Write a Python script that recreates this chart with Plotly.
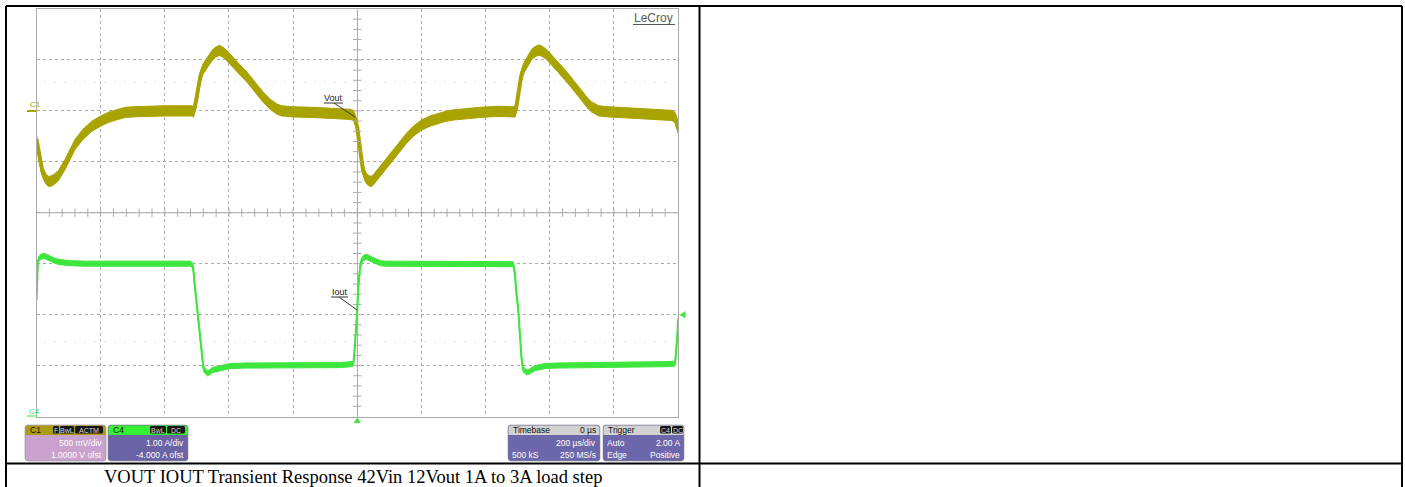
import plotly.graph_objects as go

# ---------------- waveform data ----------------
# C1: Vout deviation (mV) versus time (us)
t_vout = [-1000, -990, -981, -970, -963, -955, -945, -931, -910, -895, -880, -855, -828, -800,
          -776, -750, -723, -690, -650, -600, -550, -515, -511, -506, -502, -496, -489, -481,
          -473, -465, -458, -450, -442, -436, -430, -424, -414, -400, -386, -365, -343, -318,
          -293, -271, -260, -249, -235, -224, -200, -137, -80, -53, -22, -12, -6, 0, 5, 9, 14,
          19, 25, 31, 40, 48, 56, 67, 78, 90, 103, 115, 128, 142, 156, 175, 200, 227, 250, 274,
          300, 330, 383, 436, 483, 489, 492, 496, 500, 505, 511, 519, 527, 535, 543, 551, 557,
          563, 570, 577, 587, 600, 615, 637, 662, 687, 709, 720, 731, 742, 753, 776, 860, 920,
          947, 978, 988, 993, 997, 1000]
v_out = [-280, -476, -604, -670, -692, -690, -672, -633, -520, -430, -330, -230, -152, -100,
         -64, -38, -15, -8, -3, 0, 0, 0, -10, 40, 113, 230, 339, 410,
         447, 490, 525, 555, 574, 586, 594, 585, 565, 520, 476, 400, 329, 231,
         133, 64, 38, 15, 0, -5, -10, -15, -22, -25, -34, -44, -90, -162, -300, -398, -500,
         -594, -645, -673, -692, -685, -653, -610, -565, -520, -476, -420, -368, -310, -260,
         -200, -140, -100, -75, -55, -40, -30, -15, -5, -5, -5, -10, 40, 113, 230, 339, 420,
         460, 510, 550, 575, 588, 594, 596, 585, 563, 520, 470, 390, 300, 200, 110, 70, 38,
         15, 0, -8, -20, -30, -35, -44, -55, -80, -133, -170]

# C4: Iout (A) versus time (us)
t_iout = [-1000, -998, -996, -993, -990, -985, -975, -965, -956, -940, -925, -894, -850, -700,
          -520, -514, -511, -507, -502, -498, -495, -492, -489, -486, -483, -480, -477, -472,
          -467, -460, -452, -440, -427, -410, -396, -350, -200, -50, -15, -12, -9, -6, -3, 0,
          3, 6, 9, 13, 19, 25, 31, 40, 50, 60, 72, 90, 150, 300, 480, 486, 489, 492, 495, 499,
          502, 505, 508, 512, 517, 522, 527, 533, 540, 554, 570, 586, 620, 800, 985, 991, 995,
          998, 1000]
i_out = [2.29, 2.75, 3.02, 3.09, 3.11, 3.14, 3.15, 3.12, 3.09, 3.05, 3.03, 3.01, 3.0, 3.0,
         3.0, 2.97, 2.88, 2.6, 2.29, 2.05, 1.9, 1.65, 1.40, 1.2, 1.07, 0.97, 0.91, 0.87,
         0.85, 0.87, 0.91, 0.93, 0.95, 0.97, 0.99, 1.0, 1.0, 1.01, 1.03, 1.05, 1.25, 1.5, 1.8, 2.09,
         2.54, 2.8, 2.94, 3.05, 3.11, 3.13, 3.13, 3.10, 3.07, 3.04, 3.01, 3.0, 3.0, 3.0, 3.0, 2.99, 2.9, 2.78, 2.5, 2.3,
         2.09, 1.8, 1.5, 1.15, 0.93, 0.89, 0.87, 0.87, 0.9, 0.95, 0.97, 0.99, 1.0, 1.01, 1.03, 1.05, 1.3,
         1.6, 1.9]

# noise envelope half-widths of the captured traces
VOUT_RIPPLE_MV = 50
IOUT_RIPPLE_A = 0.05

# channel settings
C1_SCALE_MV, C1_OFFSET_MV = 500, 1000      # 500 mV/div, 1.0000 V ofst
C4_SCALE_A, C4_OFFSET_A = 1.0, -4.0        # 1.00 A/div, -4.000 A ofst
TIMEBASE_US = 200                          # 200 us/div
N_HDIV, N_VDIV = 10, 8

caption = "VOUT IOUT Transient Response 42Vin 12Vout 1A to 3A load step"

VOUT_COLOR = "#A9A300"
IOUT_COLOR = "#3DE63D"
GRID_COLOR = "#ABABAB"
FONT = "Liberation Sans, Arial, sans-serif"

# ---------------- page geometry (pixels) ----------------
W, H = 1405, 487
GX0, GX1 = 36.5, 678.0     # graticule left/right
GY0, GY1 = 9.0, 416.5      # graticule top/bottom


def px(x):
    return x / W


def py(y):
    return 1 - y / H


# axis ranges derived from the channel settings
x_range = [-TIMEBASE_US * N_HDIV / 2, TIMEBASE_US * N_HDIV / 2]
c1_range = [-N_VDIV / 2 * C1_SCALE_MV - C1_OFFSET_MV, N_VDIV / 2 * C1_SCALE_MV - C1_OFFSET_MV]
c4_range = [-N_VDIV / 2 * C4_SCALE_A - C4_OFFSET_A, N_VDIV / 2 * C4_SCALE_A - C4_OFFSET_A]
c1_center = (c1_range[0] + c1_range[1]) / 2

fig = go.Figure()

# Vout envelope
fig.add_trace(go.Scatter(x=t_vout, y=[v + VOUT_RIPPLE_MV for v in v_out], mode="lines",
                         line=dict(color=VOUT_COLOR, width=1), hoverinfo="skip", showlegend=False))
fig.add_trace(go.Scatter(x=t_vout, y=[v - VOUT_RIPPLE_MV for v in v_out], mode="lines",
                         line=dict(color=VOUT_COLOR, width=1), fill="tonexty",
                         fillcolor=VOUT_COLOR, hoverinfo="skip", showlegend=False))
fig.add_trace(go.Scatter(x=t_vout, y=v_out, mode="lines", name="Vout",
                         line=dict(color=VOUT_COLOR, width=4), showlegend=False))

# Iout envelope
fig.add_trace(go.Scatter(x=t_iout, y=[i + IOUT_RIPPLE_A for i in i_out], mode="lines", yaxis="y2",
                         line=dict(color=IOUT_COLOR, width=1), hoverinfo="skip", showlegend=False))
fig.add_trace(go.Scatter(x=t_iout, y=[i - IOUT_RIPPLE_A for i in i_out], mode="lines", yaxis="y2",
                         line=dict(color=IOUT_COLOR, width=1), fill="tonexty",
                         fillcolor=IOUT_COLOR, hoverinfo="skip", showlegend=False))
fig.add_trace(go.Scatter(x=t_iout, y=i_out, mode="lines", yaxis="y2", name="Iout",
                         line=dict(color=IOUT_COLOR, width=2), showlegend=False))

# minor ticks on the graticule centre lines (1/5 division)
hstep = TIMEBASE_US / 5
hx = [x_range[0] + k * hstep for k in range(1, N_HDIV * 5)]
fig.add_trace(go.Scatter(x=hx, y=[c1_center] * len(hx), mode="markers", hoverinfo="skip",
                         marker=dict(symbol="line-ns", size=6, line=dict(color=GRID_COLOR, width=1)),
                         showlegend=False))
vstep = C1_SCALE_MV / 5
vy = [c1_range[0] + k * vstep for k in range(1, N_VDIV * 5)]
fig.add_trace(go.Scatter(x=[0] * len(vy), y=vy, mode="markers", hoverinfo="skip",
                         marker=dict(symbol="line-ew", size=6, line=dict(color=GRID_COLOR, width=1)),
                         showlegend=False))

shapes = []
annotations = []


def text(s, x, y, anchor="left", color="white", size=8.5, family=FONT):
    annotations.append(dict(text=s, x=px(x), y=py(y), xref="paper", yref="paper", xanchor=anchor,
                            yanchor="middle", showarrow=False,
                            font=dict(family=family, size=size, color=color)))


def seg(x0, y0, x1, y1, color, width=1, dash="solid"):
    shapes.append(dict(type="line", xref="paper", yref="paper", x0=px(x0), x1=px(x1),
                       y0=py(y0), y1=py(y1), line=dict(color=color, width=width, dash=dash)))


# horizontal centre line
shapes.append(dict(type="line", xref="x", yref="y", x0=x_range[0], x1=x_range[1],
                   y0=c1_center, y1=c1_center, line=dict(color=GRID_COLOR, width=1)))

# dotted reference rows in each half of the screen
for yy in (82, 342):
    seg(GX0 + 8, yy, GX1 - 4, yy, "#C8C8C8", 1, "1px,9px")

# channel ground markers and labels
shapes.append(dict(type="line", xref="paper", yref="y", x0=px(27), x1=px(GX0),
                   y0=0, y1=0, line=dict(color=VOUT_COLOR, width=2)))
shapes.append(dict(type="line", xref="paper", yref="y2", x0=px(27), x1=px(GX0),
                   y0=0, y1=0, line=dict(color=IOUT_COLOR, width=2)))
text("C1", 27.5, 104.5, color=VOUT_COLOR, size=8)
text("C4", 27, 411, color=IOUT_COLOR, size=8)

# trace labels with leader lines
text("Vout", 333.5, 97.5, anchor="center", color="#222", size=9)
seg(324, 103, 343, 103, "#333")
seg(334, 103, 355, 117, "#333")
text("Iout", 339.5, 291.5, anchor="center", color="#222", size=9)
seg(331, 297, 348, 297, "#333")
seg(339, 297, 357, 310, "#333")

# LeCroy logo
text("LeCroy", 675, 17.5, anchor="right", color="#5A5A5A", size=12)
seg(633, 24.5, 675, 24.5, "#5A5A5A")

# trigger markers
tx = 357.25
shapes.append(dict(type="path", xref="paper", yref="paper", fillcolor=IOUT_COLOR, line=dict(width=0),
                   path=f"M{px(tx - 3.5)},{py(423)} L{px(tx + 3.5)},{py(423)} L{px(tx)},{py(417.5)} Z"))
trig_y = GY1 - 2.0 / C4_SCALE_A * (GY1 - GY0) / N_VDIV
shapes.append(dict(type="path", xref="paper", yref="paper", fillcolor=IOUT_COLOR, line=dict(width=0),
                   path=f"M{px(679.5)},{py(trig_y)} L{px(685.5)},{py(trig_y - 3.5)} L{px(685.5)},{py(trig_y + 3.5)} Z"))


def rounded(x0, y0, x1, y1, r_top, r_bot):
    """Closed path of a box with rounded corners, pixel coords -> paper coords."""
    segs = f"M{px(x0 + r_top)},{py(y0)} L{px(x1 - r_top)},{py(y0)} "
    segs += f"Q{px(x1)},{py(y0)} {px(x1)},{py(y0 + r_top)} "
    segs += f"L{px(x1)},{py(y1 - r_bot)} Q{px(x1)},{py(y1)} {px(x1 - r_bot)},{py(y1)} "
    segs += f"L{px(x0 + r_bot)},{py(y1)} Q{px(x0)},{py(y1)} {px(x0)},{py(y1 - r_bot)} "
    segs += f"L{px(x0)},{py(y0 + r_top)} Q{px(x0)},{py(y0)} {px(x0 + r_top)},{py(y0)} Z"
    return segs


def badge(s, x0, x1, y0=426, y1=433.5):
    shapes.append(dict(type="path", xref="paper", yref="paper", fillcolor="#161616",
                       line=dict(width=0), path=rounded(x0, y0, x1, y1, 1.5, 1.5)))
    text(s, (x0 + x1) / 2, (y0 + y1) / 2 + 0.3, anchor="center", color="#D8D8D8", size=7)


def info_box(x0, x1, head_color, body_color):
    shapes.append(dict(type="path", xref="paper", yref="paper", fillcolor=body_color,
                       line=dict(color="#8A8A8A", width=0.6), path=rounded(x0, 425, x1, 461, 3, 3)))
    shapes.append(dict(type="path", xref="paper", yref="paper", fillcolor=head_color,
                       line=dict(width=0), path=rounded(x0 + 0.5, 425.5, x1 - 0.5, 435, 3, 0)))


# channel / timebase / trigger descriptor boxes
info_box(25, 106, "#A99B12", "#C9A2CE")
text("C1", 28, 430, color="#111")
badge("F", 53, 59)
badge("BwL", 60, 74)
badge("ACTM", 75, 103)
text("500 mV/div", 103.5, 443, anchor="right")
text("1.0000 V ofst", 103.5, 455, anchor="right")

info_box(108, 188, "#36F036", "#6A63A6")
text("C4", 111, 430, color="#111")
badge("BwL", 150, 166)
badge("DC", 167, 185)
text("1.00 A/div", 186, 443, anchor="right")
text("-4.000 A ofst", 186, 455, anchor="right")

info_box(508, 600, "#D2D2D2", "#6C66AA")
text("Timebase", 511, 430, color="#111")
text("0 µs", 598, 430, anchor="right", color="#111")
text("200 µs/div", 598, 443, anchor="right")
text("500 kS", 510, 455)
text("250 MS/s", 598, 455, anchor="right")

info_box(603, 684, "#D2D2D2", "#6C66AA")
text("Trigger", 606, 430, color="#111")
badge("C4", 660, 671)
badge("DC", 672, 683)
text("Auto", 605, 443)
text("2.00 A", 682, 443, anchor="right")
text("Edge", 605, 455)
text("Positive", 682, 455, anchor="right")

# table frame around the figure cell, its empty neighbour and the caption row
for (x0, y0, x1, y1) in [(6, 6, 1402, 6), (6, 6, 6, 487), (1402, 6, 1402, 487),
                         (699.5, 6, 699.5, 487), (6, 463.5, 1402, 463.5)]:
    seg(x0, y0, x1, y1, "black", 2)

text(caption, 353, 476.5, anchor="center", color="black", size=18.5,
     family="Liberation Serif, Times New Roman, serif")

axis_common = dict(showticklabels=False, ticks="", fixedrange=True)
fig.update_layout(
    width=W, height=H, margin=dict(l=0, r=0, t=0, b=0),
    paper_bgcolor="white", plot_bgcolor="white",
    showlegend=False,
    xaxis=dict(domain=[px(GX0), px(GX1)], range=x_range, dtick=TIMEBASE_US, tick0=x_range[0],
               showgrid=True, gridcolor=GRID_COLOR, griddash="dot", gridwidth=1,
               zeroline=True, zerolinecolor=GRID_COLOR, zerolinewidth=1,
               showline=True, mirror=True, linecolor=GRID_COLOR, linewidth=1, **axis_common),
    yaxis=dict(domain=[py(GY1), py(GY0)], range=c1_range, dtick=C1_SCALE_MV, tick0=c1_range[0],
               showgrid=True, gridcolor=GRID_COLOR, griddash="dot", gridwidth=1, zeroline=False,
               showline=True, mirror=True, linecolor=GRID_COLOR, linewidth=1, **axis_common),
    yaxis2=dict(domain=[py(GY1), py(GY0)], range=c4_range, overlaying="y", showgrid=False,
                zeroline=False, showline=False, **axis_common),
    shapes=shapes, annotations=annotations,
)

fig.write_html("out.html")
